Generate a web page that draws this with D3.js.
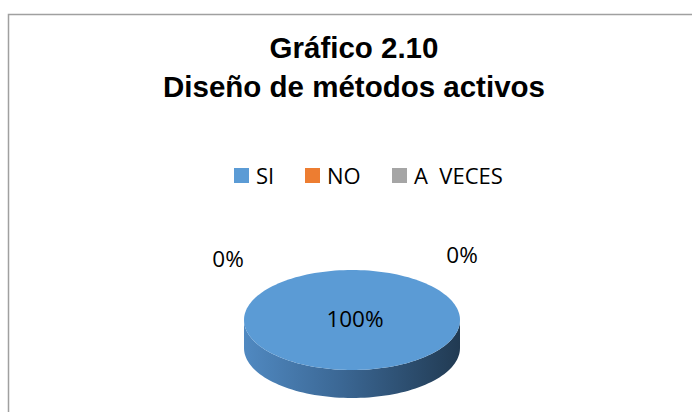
<!DOCTYPE html>
<html><head><meta charset="utf-8">
<script src="https://cdn.jsdelivr.net/npm/d3@7"></script>
<style>html,body{margin:0;padding:0;background:#fff;}svg{display:block;}</style>
</head><body>
<script>
const titleLines = ["Gráfico 2.10", "Diseño de métodos activos"];
const categories = ["SI", "NO", "A  VECES"];
const values = [100, 0, 0];
const colors = ["#5b9bd5", "#ed7d31", "#a5a5a5"];

const W = 692, H = 412;
const svg = d3.select("body").append("svg").attr("width", W).attr("height", H);

// frame
svg.append("rect").attr("x", 8.5).attr("y", 14.5).attr("width", 700).attr("height", 420)
  .attr("fill", "#fff").attr("stroke", "#a0a0a0").attr("stroke-width", 1.5);

// title
const title = svg.append("text").attr("text-anchor", "middle")
  .attr("font-family", "Liberation Sans, Arial, sans-serif").attr("font-weight", "bold")
  .attr("font-size", 29.5).attr("fill", "#000");
title.selectAll("tspan").data(titleLines).join("tspan")
  .attr("x", 354).attr("y", (d, i) => i === 0 ? 58 : 97).text(d => d);

// legend
const legX = [234, 305, 392];
const leg = svg.append("g");
const li = leg.selectAll("g").data(categories).join("g")
  .attr("transform", (d, i) => `translate(${legX[i]},168)`);
li.append("rect").attr("width", 15).attr("height", 15).attr("fill", (d, i) => colors[i]);
li.append("text").attr("x", 22).attr("y", 15.5).attr("font-family", "Open Sans, sans-serif")
  .attr("font-size", 22).attr("fill", "#000").style("white-space", "pre").attr("xml:space", "preserve").text(d => d);

// 3D pie
const cx = 352, cy = 320, rx = 108, ry = 50, depth = 28;
const pie = d3.pie().sort(null).startAngle(0).endAngle(2 * Math.PI);
const arcs = pie(values);
const pt = (a, dy = 0) => [cx + rx * Math.sin(a), cy - ry * Math.cos(a) + dy];

const defs = svg.append("defs");
const grad = defs.append("linearGradient").attr("id", "side").attr("x1", "0").attr("x2", "1").attr("y1", "0").attr("y2", "0");
grad.append("stop").attr("offset", "0%").attr("stop-color", "#5089c1");
grad.append("stop").attr("offset", "45%").attr("stop-color", "#3b6794");
grad.append("stop").attr("offset", "100%").attr("stop-color", "#213a52");

const line = d3.line();
arcs.forEach((a, i) => {
  if (a.endAngle - a.startAngle <= 0) return;
  const s = Math.max(a.startAngle, Math.PI / 2), e = Math.min(a.endAngle, 3 * Math.PI / 2);
  if (e <= s) return;
  const n = 80, top = [], bot = [];
  for (let k = 0; k <= n; k++) { const t = s + (e - s) * k / n; top.push(pt(t)); bot.push(pt(t, depth)); }
  svg.append("path").attr("d", line(top.concat(bot.reverse())) + "Z").attr("fill", "url(#side)");
});
arcs.forEach((a, i) => {
  if (a.endAngle - a.startAngle <= 0) return;
  const n = 160, pts = [];
  for (let k = 0; k <= n; k++) pts.push(pt(a.startAngle + (a.endAngle - a.startAngle) * k / n));
  const full = a.endAngle - a.startAngle >= 2 * Math.PI - 1e-6;
  svg.append("path").attr("d", full ? line(pts) + "Z" : line([[cx, cy]].concat(pts)) + "Z").attr("fill", colors[i]);
});

// labels
const fmt = d3.format(".0%");
const total = d3.sum(values);
const labelPos = [[355, 327], [228, 267], [462, 263]];
svg.selectAll("text.lbl").data(arcs).join("text").attr("class", "lbl")
  .attr("x", (d, i) => labelPos[i][0]).attr("y", (d, i) => labelPos[i][1])
  .attr("text-anchor", "middle").attr("font-family", "Open Sans, sans-serif").attr("font-size", 22.5).attr("fill", "#000")
  .text(d => fmt(d.data / total));
</script>
</body></html>
